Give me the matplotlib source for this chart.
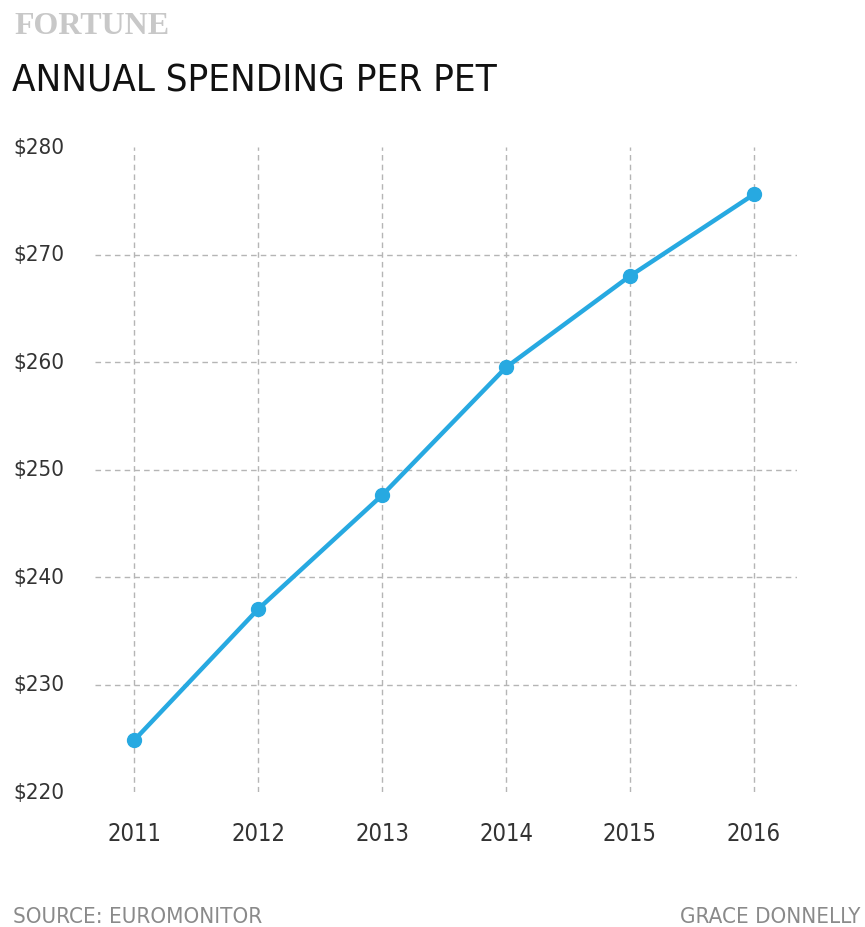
import matplotlib
matplotlib.use("Agg")
import matplotlib.pyplot as plt

years = [2011, 2012, 2013, 2014, 2015, 2016]
spend = [224.8, 237.0, 247.6, 259.5, 268.0, 275.6]
yticks = [220, 230, 240, 250, 260, 270, 280]
ytick_labels = ["$%d" % v for v in yticks]

cond = dict(family="DejaVu Sans", stretch="condensed")
blue = "#27a9e1"

fig = plt.figure(figsize=(8.65, 9.28), dpi=100)
ax = fig.add_axes([95 / 865, 1 - 793 / 928, 702 / 865, 645 / 928])

ax.plot(years, spend, color=blue, lw=3.2, marker="o", ms=10, zorder=3)

ax.set_xlim(2010.685, 2016.347)
ax.set_ylim(220, 280)
ax.set_xticks(years)
ax.set_xticklabels([str(y) for y in years], fontsize=17, color="#333333", **cond)
ax.set_yticks(yticks)
ax.set_yticklabels([])
ax.tick_params(length=0, pad=21)

# gridlines (dashed), horizontal only for inner values
for y in yticks[1:-1]:
    ax.axhline(y, color="#b5b5b5", lw=1, ls=(0, (4, 3)), zorder=1)
for x in years:
    ax.axvline(x, color="#b5b5b5", lw=1, ls=(0, (4, 3)), zorder=1)

for s in ax.spines.values():
    s.set_visible(False)

# y labels left aligned at the figure edge
for v, lab in zip(yticks, ytick_labels):
    yf = ax.transData.transform((0, v))[1] / fig.bbox.height
    fig.text(13 / 865, yf, lab, ha="left", va="center", fontsize=16,
             color="#333333", **cond)

fig.text(14 / 865, 1 - 27 / 928, "FORTUNE", ha="left", va="center", fontsize=23,
         color="#c8c8c8", family="Liberation Serif", weight="bold")
fig.text(12 / 865, 1 - 82 / 928, "ANNUAL SPENDING PER PET", ha="left", va="center",
         fontsize=27.5, color="#111111", **cond)

fig.text(13 / 865, 1 - 917 / 928, "SOURCE: EUROMONITOR", ha="left", va="center",
         fontsize=16, color="#8a8a8a", **cond)
fig.text(860 / 865, 1 - 917 / 928, "GRACE DONNELLY", ha="right", va="center",
         fontsize=16, color="#8a8a8a", **cond)

fig.savefig("out.png", dpi=100, facecolor="white")
